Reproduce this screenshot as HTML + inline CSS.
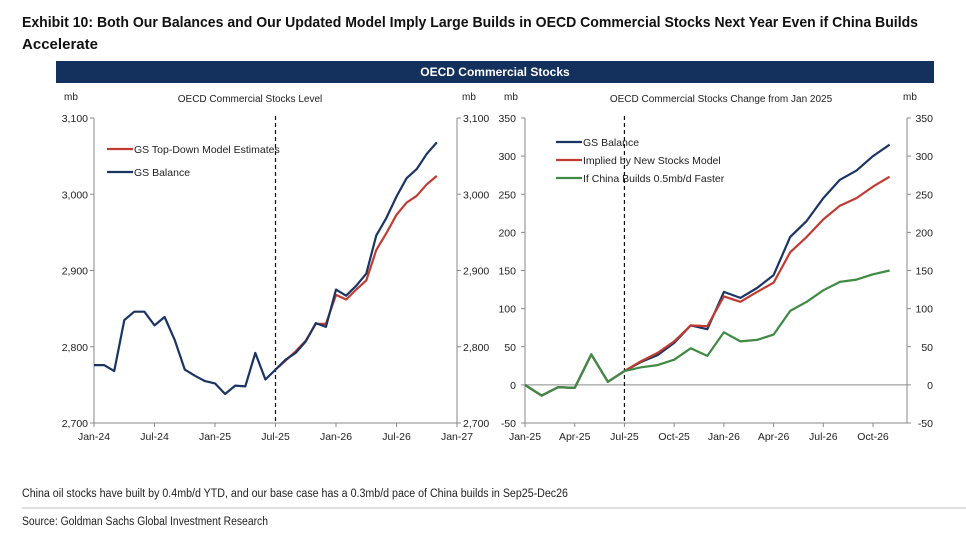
<!DOCTYPE html>
<html><head><meta charset="utf-8"><style>
body{margin:0;background:#fff}
svg{display:block;font-family:"Liberation Sans",sans-serif}
</style></head><body>
<svg id="chart" width="966" height="539" viewBox="0 0 966 539" xmlns="http://www.w3.org/2000/svg">
<text x="22" y="27" font-size="15" font-weight="bold" textLength="896" lengthAdjust="spacingAndGlyphs" fill="#111">Exhibit 10: Both Our Balances and Our Updated Model Imply Large Builds in OECD Commercial Stocks Next Year Even if China Builds</text>
<text x="22" y="49" font-size="15" font-weight="bold" textLength="76" lengthAdjust="spacingAndGlyphs" fill="#111">Accelerate</text>
<rect x="56" y="61" width="878" height="22" fill="#14305c"/>
<text x="495" y="76" font-size="12" font-weight="bold" fill="#fff" text-anchor="middle">OECD Commercial Stocks</text>
<g font-size="10" fill="#222">
<text x="64" y="100">mb</text>
<text x="250" y="102" text-anchor="middle">OECD Commercial Stocks Level</text>
<text x="462" y="100">mb</text>
<text x="504" y="100">mb</text>
<text x="721" y="102" text-anchor="middle">OECD Commercial Stocks Change from Jan 2025</text>
<text x="903" y="100">mb</text>
</g>
<g id="left"></g>
<g id="right"></g>
<text x="22" y="497" font-size="11.5" fill="#222" textLength="546" lengthAdjust="spacingAndGlyphs">China oil stocks have built by 0.4mb/d YTD, and our base case has a 0.3mb/d pace of China builds in Sep25-Dec26</text>
<line x1="22" y1="508" x2="966" y2="508" stroke="#bbb"/>
<text x="22" y="525" font-size="11.5" fill="#222" textLength="246" lengthAdjust="spacingAndGlyphs">Source: Goldman Sachs Global Investment Research</text>
</svg>
<script>
// Left chart data (monthly from Jan-24)
const leftTicksY = [2700, 2800, 2900, 3000, 3100];
const leftTickLabelsY = ["2,700", "2,800", "2,900", "3,000", "3,100"];
const leftTickLabelsX = ["Jan-24", "Jul-24", "Jan-25", "Jul-25", "Jan-26", "Jul-26", "Jan-27"];
const leftBalance = [2776,2776,2768,2835,2846,2846,2828,2839,2809,2770,2762,2755,2752,2738,2749,2748,2792,2757,2770,2783,2792,2807,2831,2826,2875,2867,2880,2896,2946,2969,2997,3021,3033,3053,3068];
const leftModelStart = 18;
const leftModel = [2770,2782,2794,2808,2830,2830,2868,2862,2875,2887,2927,2949,2973,2989,2998,3013,3024];
// Right chart data (monthly from Jan-25)
const rightTicksY = [-50, 0, 50, 100, 150, 200, 250, 300, 350];
const rightTickLabelsX = ["Jan-25", "Apr-25", "Jul-25", "Oct-25", "Jan-26", "Apr-26", "Jul-26", "Oct-26"];
const rightBalance = [0,-14,-3,-4,40,4,18,30,39,55,78,73,122,114,127,144,194,215,245,269,281,300,315];
const rightModel = [0,-14,-3,-4,40,4,18,31,42,57,78,77,116,109,122,134,174,194,217,235,245,260,273];
const rightChina = [0,-14,-3,-4,40,4,18,23,26,33,48,38,69,57,59,66,97,109,124,135,138,145,150];

const NS = "http://www.w3.org/2000/svg";
const NAVY = "#1b3563", RED = "#c23b33", GREEN = "#3f8a44", AX = "#8a8a8a";
function mk(parent, tag, attrs, text) {
  const e = document.createElementNS(NS, tag);
  for (const k in attrs) e.setAttribute(k, attrs[k]);
  if (text !== undefined) e.textContent = text;
  parent.appendChild(e);
  return e;
}
function path(xs, ys) { return xs.map((x, i) => (i ? "L" : "M") + x.toFixed(1) + "," + ys[i].toFixed(1)).join(""); }

// ---------- LEFT ----------
const L = document.getElementById("left");
const lx0 = 94, lx1 = 457, ly0 = 423, ly1 = 118;
const lx = m => lx0 + (lx1 - lx0) * m / 36;
const ly = v => ly0 - (ly0 - ly1) * (v - 2700) / 400;
let e;
e = mk(L, "line", {x1: lx0, y1: ly1, x2: lx0, y2: ly0, stroke: AX});
 
e = mk(L, "line", {x1: lx1, y1: ly1, x2: lx1, y2: ly0, stroke: AX});
 
e = mk(L, "line", {x1: lx0, y1: ly0, x2: lx1, y2: ly0, stroke: AX});
 
leftTicksY.forEach((v, i) => {
  const y = ly(v);
  mk(L, "line", {x1: lx0 - 4, y1: y, x2: lx0, y2: y, stroke: AX});
  mk(L, "line", {x1: lx1, y1: y, x2: lx1 + 4, y2: y, stroke: AX});
  e = mk(L, "text", {x: lx0 - 6, y: y + 4, "font-size": 10.5, "text-anchor": "end", fill: "#222"}, leftTickLabelsY[i]);
   
  e = mk(L, "text", {x: lx1 + 6, y: y + 4, "font-size": 10.5, fill: "#222"}, leftTickLabelsY[i]);
   
});
leftTickLabelsX.forEach((t, i) => {
  const x = lx(i * 6);
  mk(L, "line", {x1: x, y1: ly0, x2: x, y2: ly0 + 4, stroke: AX});
  e = mk(L, "text", {x: x, y: ly0 + 17, "font-size": 10.5, "text-anchor": "middle", fill: "#222"}, t);
   
});
e = mk(L, "line", {x1: lx(18), y1: ly1 - 2, x2: lx(18), y2: ly0, stroke: "#111", "stroke-width": 1.2, "stroke-dasharray": "4,3"});
 
e = mk(L, "path", {d: path(leftModel.map((v, i) => lx(i + leftModelStart)), leftModel.map(ly)), fill: "none", stroke: RED, "stroke-width": 2.2, "stroke-linejoin": "round"});
 
e = mk(L, "path", {d: path(leftBalance.map((v, i) => lx(i)), leftBalance.map(ly)), fill: "none", stroke: NAVY, "stroke-width": 2.2, "stroke-linejoin": "round"});
 
[["GS Top-Down Model Estimates", RED, 149], ["GS Balance", NAVY, 172]].forEach(([t, c, y]) => {
  e = mk(L, "g", {});
   
  mk(e, "line", {x1: 107, y1: y, x2: 133, y2: y, stroke: c, "stroke-width": 2.2});
  mk(e, "text", {x: 134, y: y + 4, "font-size": 10.5, fill: "#222"}, t);
});

// ---------- RIGHT ----------
const R = document.getElementById("right");
const rx0 = 525, rx1 = 907, ry0 = 423, ry1 = 118;
const rx = m => rx0 + (rx1 - rx0) * m / 23.05;
const ry = v => ry0 - (ry0 - ry1) * (v + 50) / 400;
e = mk(R, "line", {x1: rx0, y1: ry1, x2: rx0, y2: ry0, stroke: AX});
 
e = mk(R, "line", {x1: rx1, y1: ry1, x2: rx1, y2: ry0, stroke: AX});
 
e = mk(R, "line", {x1: rx0, y1: ry0, x2: rx1, y2: ry0, stroke: AX});
 
e = mk(R, "line", {x1: rx0, y1: ry(0), x2: rx1, y2: ry(0), stroke: AX});
 
rightTicksY.forEach(v => {
  const y = ry(v);
  mk(R, "line", {x1: rx0 - 4, y1: y, x2: rx0, y2: y, stroke: AX});
  mk(R, "line", {x1: rx1, y1: y, x2: rx1 + 4, y2: y, stroke: AX});
  e = mk(R, "text", {x: rx0 - 9, y: y + 4, "font-size": 10.5, "text-anchor": "end", fill: "#222"}, String(v));
   
  e = mk(R, "text", {x: rx1 + 26, y: y + 4, "font-size": 10.5, "text-anchor": "end", fill: "#222"}, String(v));
   
});
rightTickLabelsX.forEach((t, i) => {
  const x = rx(i * 3);
  mk(R, "line", {x1: x, y1: ry0, x2: x, y2: ry0 + 4, stroke: AX});
  e = mk(R, "text", {x: x, y: ry0 + 17, "font-size": 10.5, "text-anchor": "middle", fill: "#222"}, t);
   
});
e = mk(R, "line", {x1: rx(6), y1: ry1 - 2, x2: rx(6), y2: ry0, stroke: "#111", "stroke-width": 1.2, "stroke-dasharray": "4,3"});
 
[[rightBalance, NAVY, 'right-balance-line'], [rightModel, RED, 'right-model-line'], [rightChina, GREEN, 'right-china-line']].forEach(([d, c, n]) => {
  e = mk(R, "path", {d: path(d.map((v, i) => rx(i)), d.map(ry)), fill: "none", stroke: c, "stroke-width": 2.2, "stroke-linejoin": "round"});
  
  
});
[["GS Balance", NAVY, 142], ["Implied by New Stocks Model", RED, 160], ["If China Builds 0.5mb/d Faster", GREEN, 178]].forEach(([t, c, y]) => {
  e = mk(R, "g", {});
   
  mk(e, "line", {x1: 556, y1: y, x2: 582, y2: y, stroke: c, "stroke-width": 2.2});
  mk(e, "text", {x: 583, y: y + 4, "font-size": 10.5, fill: "#222"}, t);
});
</script>
</body></html>
